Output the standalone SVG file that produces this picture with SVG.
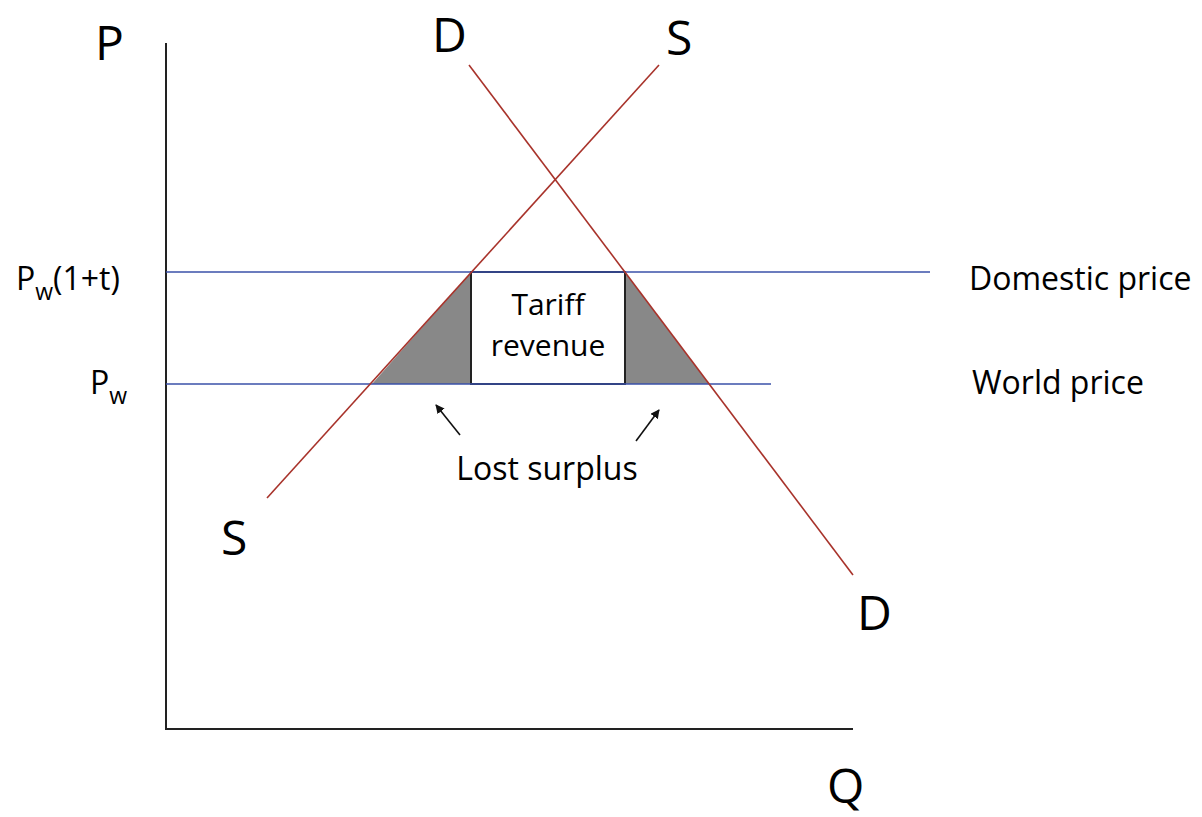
<svg xmlns="http://www.w3.org/2000/svg" width="1202" height="817" viewBox="0 0 1202 817">
<style>
text{font-family:"Open Sans","Noto Sans",sans-serif;fill:#000}
.big{font-size:48px}
.lbl{font-size:32px}
.box{font-size:30px}
.curve{stroke:#a8332b;stroke-width:1.6;fill:none}
.price{stroke:#3a51a8;stroke-width:1.6;fill:none}
.axis{stroke:#222;stroke-width:2;fill:none}
.tri{fill:#888;stroke:none}
.arr{stroke:#111;stroke-width:1.6;fill:none;marker-end:url(#ah)}
</style>
<defs>
<marker id="ah" viewBox="0 0 10 10" refX="9" refY="5" markerWidth="9" markerHeight="9" markerUnits="userSpaceOnUse" orient="auto"><path d="M0,0 L10,5 L0,10 z" fill="#111"/></marker>
</defs>
<g id="areas">
<polygon class="tri" points="372,384 471,272 471,384"/>
<polygon class="tri" points="625,272 625,384 709,384"/>
<rect id="tariff-box" x="471" y="272" width="154" height="112" fill="#fff" stroke="#222" stroke-width="2"/>
</g>
<g id="axes">
<line class="axis" x1="166" y1="43" x2="166" y2="730"/>
<line class="axis" x1="166" y1="729" x2="853" y2="729"/>
</g>
<g id="connectors">
<line class="price" x1="166" y1="272" x2="930" y2="272"/>
<line class="price" x1="166" y1="384" x2="771" y2="384"/>
<line class="curve" x1="267" y1="498" x2="659" y2="65"/>
<line class="curve" x1="469" y1="65" x2="853" y2="575"/>
<line class="arr" x1="460" y1="435" x2="436" y2="405"/>
<line class="arr" x1="636" y1="441" x2="659" y2="410"/>
</g>
<g id="labels">
<text class="big" x="95" y="60">P</text>
<text class="big" x="432" y="52">D</text>
<text class="big" x="666" y="55">S</text>
<text class="big" x="221" y="555">S</text>
<text class="big" x="857" y="630">D</text>
<text class="big" x="827" y="803">Q</text>
<text class="lbl" x="16" y="290">P<tspan font-size="23" dy="10">w</tspan><tspan dy="-10">(1+t)</tspan></text>
<text class="lbl" x="90" y="394">P<tspan font-size="23" dy="10">w</tspan></text>
<text class="lbl" x="969" y="290">Domestic price</text>
<text class="lbl" x="972" y="394">World price</text>
<text class="box" x="548" y="315" text-anchor="middle">Tariff</text>
<text class="box" x="548" y="356" text-anchor="middle">revenue</text>
<text class="lbl" x="547" y="480" text-anchor="middle">Lost surplus</text>
</g>
</svg>
